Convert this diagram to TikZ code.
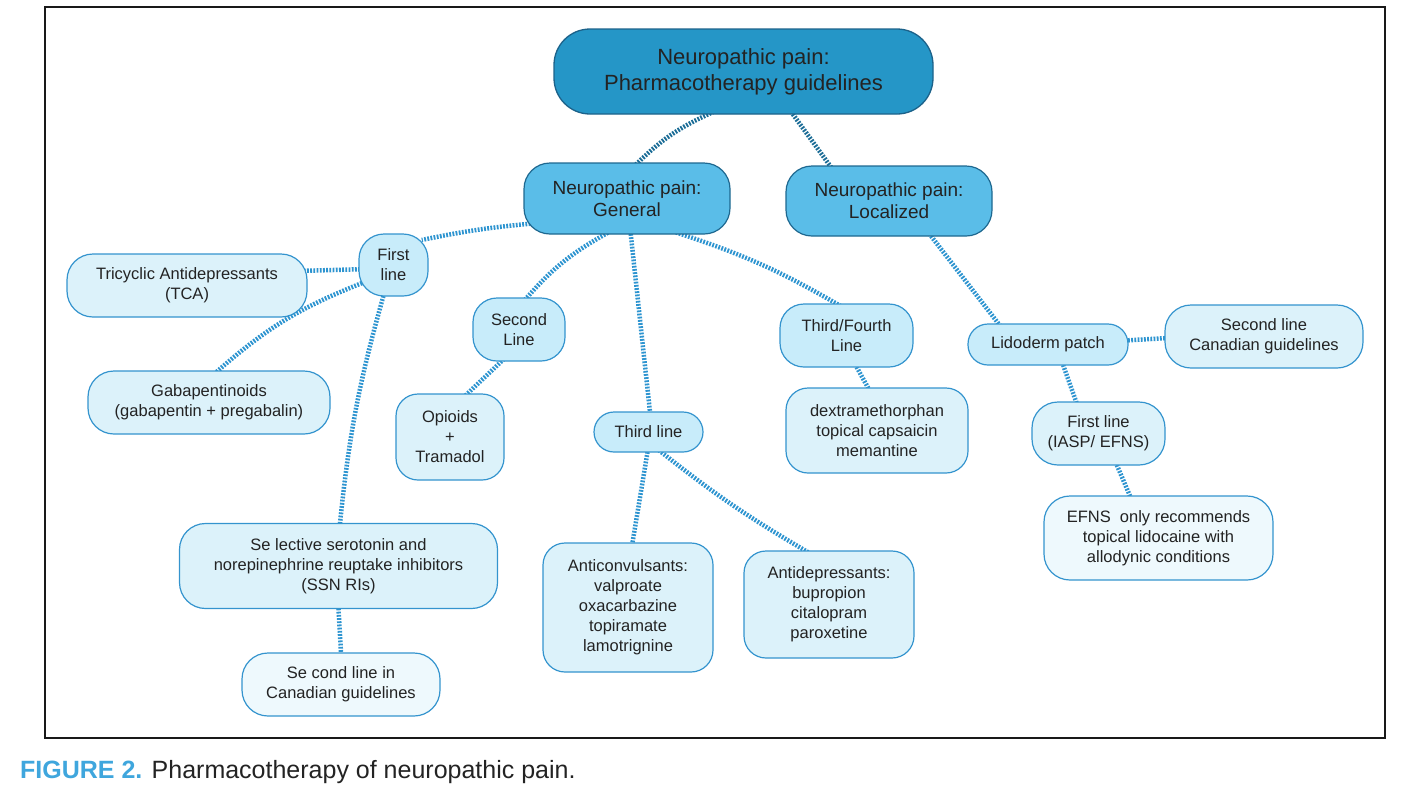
\documentclass[tikz,border=0pt]{standalone}
\usepackage{fontspec}
\setmainfont{Liberation Sans}
\usepackage{tikz}
\usetikzlibrary{backgrounds}

\definecolor{rootfill}{RGB}{37,150,199}
\definecolor{rootline}{RGB}{28,98,138}
\definecolor{areafill}{RGB}{90,189,232}
\definecolor{arealine}{RGB}{30,104,144}
\definecolor{linefill}{RGB}{200,236,250}
\definecolor{drugfill}{RGB}{220,242,250}
\definecolor{notefill}{RGB}{238,249,253}
\definecolor{boxline}{RGB}{52,148,206}
\definecolor{darklink}{RGB}{27,108,150}
\definecolor{lightlink}{RGB}{45,148,208}
\definecolor{inktext}{RGB}{35,35,35}
\definecolor{figblue}{RGB}{63,166,221}

\begin{document}
\begin{tikzpicture}[x=1pt,y=1pt,yscale=-1,xscale=1,
	every node/.style={text=inktext, align=center, inner sep=0pt},
	rootbox/.style={draw=rootline, fill=rootfill, line width=1.3pt, rounded corners=36pt, font=\fontsize{22}{26}\selectfont},
	areabox/.style={draw=arealine, fill=areafill, line width=1.2pt, rounded corners=26pt, font=\fontsize{19}{22}\selectfont},
	linebox/.style={draw=boxline, fill=linefill, line width=1.2pt, rounded corners=20pt, font=\fontsize{16.5}{20}\selectfont},
	drugbox/.style={linebox, fill=drugfill, rounded corners=22pt},
	notebox/.style={linebox, fill=notefill, rounded corners=22pt},
	link/.style={draw=lightlink, line width=4.5pt, dash pattern=on 1.8pt off 1.4pt, shorten <=-7pt, shorten >=-7pt},
	toplink/.style={link, draw=darklink}]
	\useasboundingbox (0,0) rectangle (1405,793);
	
	%Shape: Frame
	\draw [line width=1.8pt, draw=black!90] (45,7) rectangle (1385,738);
	
	%Shape: Rounded Rect (root)
	\node [rootbox, minimum width=379pt, minimum height=85pt] (root) at (743.5,71.5) {Neuropathic pain:\\Pharmacotherapy guidelines};
	%Shape: Rounded Rect (areas)
	\node [areabox, minimum width=206pt, minimum height=71pt] (general) at (627,198.5) {Neuropathic pain:\\General};
	\node [areabox, minimum width=206pt, minimum height=70pt] (local) at (889,201) {Neuropathic pain:\\Localized};
	
	%Shape: Rounded Rect (lines of treatment)
	\node [linebox, minimum width=69pt, minimum height=62pt, rounded corners=25pt] (first) at (393.5,265) {First\\line};
	\node [linebox, minimum width=92pt, minimum height=63pt, rounded corners=24pt] (second) at (519,329.5) {Second\\Line};
	\node [linebox, minimum width=109pt, minimum height=40pt] (third) at (648.5,432) {Third line};
	\node [linebox, minimum width=133pt, minimum height=63pt, rounded corners=24pt] (thirdfourth) at (846.5,335.5) {Third/Fourth\\Line};
	\node [linebox, minimum width=160pt, minimum height=41pt] (lido) at (1048,344.5) {Lidoderm patch};
	
	%Shape: Rounded Rect (drugs)
	\node [drugbox, minimum width=240pt, minimum height=63pt, rounded corners=26pt] (tca) at (187,285.5) {Tricyclic Antidepressants\\(TCA)};
	\node [drugbox, minimum width=242pt, minimum height=63pt, rounded corners=26pt] (gaba) at (209,402.5) {Gabapentinoids\\(gabapentin + pregabalin)};
	\node [drugbox, minimum width=318pt, minimum height=85pt, rounded corners=26pt] (snri) at (338.5,566) {Se lective serotonin and\\norepinephrine reuptake inhibitors\\(SSN RIs)};
	\node [notebox, minimum width=198pt, minimum height=63pt, rounded corners=26pt] (snrinote) at (341,684.5) {Se cond line in\\Canadian guidelines};
	\node [drugbox, minimum width=108pt, minimum height=86pt] (opioid) at (450,437) {Opioids\\+\\Tramadol};
	\node [drugbox, minimum width=170pt, minimum height=129pt] (anticonv) at (628,607.5) {Anticonvulsants:\\valproate\\oxacarbazine\\topiramate\\lamotrignine};
	\node [drugbox, minimum width=170pt, minimum height=107pt] (antidep) at (829,604.5) {Antidepressants:\\bupropion\\citalopram\\paroxetine};
	\node [drugbox, minimum width=182pt, minimum height=85pt] (dextro) at (877,430.5) {dextramethorphan\\topical capsaicin\\memantine};
	\node [drugbox, minimum width=198pt, minimum height=63pt, rounded corners=26pt] (lidosecond) at (1264,336.5) {Second line\\Canadian guidelines};
	\node [drugbox, minimum width=133pt, minimum height=63pt, rounded corners=26pt] (lidofirst) at (1098.5,433.5) {First line\\(IASP/ EFNS)};
	\node [notebox, minimum width=229pt, minimum height=84pt, rounded corners=26pt] (efns) at (1158.5,538) {EFNS\ \ only recommends\\topical lidocaine with\\allodynic conditions};
	
	%Dotted Lines
	\begin{scope}[on background layer]
	\draw [toplink] (root.230) to[bend left=10] (general.73);
	\draw [toplink] (root.-41) -- (local.149);
	\draw [link] (general.194) to[bend left=3] (first.37);
	\draw [link] (tca.7) -- (first.187);
	\draw [link] (first.209) to[bend left=10] (gaba.74);
	\draw [link] (first.252) to[bend left=5] (snri.88);
	\draw [link] (snri.south) -- (snrinote.north);
	\draw [link] (general.238) to[bend left=10] (second.76);
	\draw [link] (second.241) -- (opioid.68);
	\draw [link] (general.276) -- (third.86);
	\draw [link] (third.267) -- (anticonv.86);
	\draw [link] (third.-57) to[bend left=4] (antidep.114);
	\draw [link] (general.-33) to[bend right=6] (thirdfourth.108);
	\draw [link] (thirdfourth.-72) -- (dextro.102);
	\draw [link] (local.-40) -- (lido.157);
	\draw [link] (lido.3) -- (lidosecond.181);
	\draw [link] (lido.-54) -- (lidofirst.125);
	\draw [link] (lidofirst.-60) -- (efns.124);
	\end{scope}
	
	% Text Node
	\node [anchor=base west, font=\fontsize{25}{30}\selectfont] (caption) at (20,778) {\textcolor{figblue}{\textbf{FIGURE 2.}} Pharmacotherapy of neuropathic pain.};
	
\end{tikzpicture}
\end{document}
